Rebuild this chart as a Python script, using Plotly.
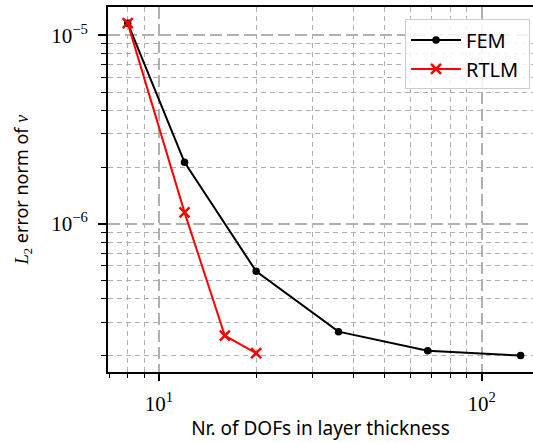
import plotly.graph_objects as go

fem_x = [8, 12, 20, 36, 68, 132]
fem_y = [1.16e-5, 2.12e-6, 5.6e-7, 2.68e-7, 2.12e-7, 2.0e-7]
rtlm_x = [8, 12, 16, 20]
rtlm_y = [1.16e-5, 1.15e-6, 2.55e-7, 2.06e-7]

x_major = [10, 100]
x_major_text = ["10<sup>1</sup>", "10<sup>2</sup>"]
x_minor = [7, 8, 9, 20, 30, 40, 50, 60, 70, 80, 90]
y_major = [1e-6, 1e-5]
y_major_text = ["10<sup>−6</sup>", "10<sup>−5</sup>"]
y_minor = [2e-7, 3e-7, 4e-7, 5e-7, 6e-7, 7e-7, 8e-7, 9e-7,
           2e-6, 3e-6, 4e-6, 5e-6, 6e-6, 7e-6, 8e-6, 9e-6]

SERIF = "Liberation Serif"
SANS = "Noto Sans"
GRID = "#b0b0b0"

fig = go.Figure()
fig.add_trace(go.Scatter(x=fem_x, y=fem_y, name="FEM\u00a0", mode="lines+markers",
                         line=dict(color="black", width=2),
                         marker=dict(symbol="circle", size=7.5, color="black")))
fig.add_trace(go.Scatter(x=rtlm_x, y=rtlm_y, name="RTLM\u00a0", mode="lines+markers",
                         line=dict(color="red", width=2),
                         marker=dict(symbol="x-thin", size=10, color="red",
                                     line=dict(color="red", width=2.5))))

fig.update_layout(
    width=533, height=443,
    margin=dict(l=108, r=0, t=7, b=71),
    plot_bgcolor="white", paper_bgcolor="white",
    font=dict(family=SANS, size=19, color="black"),
    legend=dict(x=0.993, y=0.966, xanchor="right", yanchor="top",
                bgcolor="rgba(255,255,255,0.85)", bordercolor="#cccccc",
                borderwidth=1, font=dict(family=SANS, size=20),
                itemwidth=50, tracegroupgap=0),
)

fig.update_xaxes(
    type="log", range=[0.842, 2.159], automargin=False,
    showline=True, linecolor="black", linewidth=2, mirror=True,
    tickmode="array", tickvals=x_major, ticktext=x_major_text,
    ticks="outside", ticklen=7, tickwidth=1.5, tickcolor="black",
    tickfont=dict(family=SERIF, size=21), ticklabelstandoff=5,
    showgrid=True, gridcolor=GRID, gridwidth=1.5, griddash="12px,5px",
    minor=dict(tickmode="array", tickvals=x_minor, ticks="outside", ticklen=4,
               tickwidth=1.2, tickcolor="black", showgrid=True,
               gridcolor=GRID, gridwidth=1.2, griddash="5px,4px"),
    zeroline=False,
    title=dict(text="Nr. of DOFs in layer thickness", font=dict(family=SANS, size=19),
               standoff=6),
)
fig.update_yaxes(
    type="log", range=[-6.786, -4.850], automargin=False,
    showline=True, linecolor="black", linewidth=2, mirror=False,
    tickmode="array", tickvals=y_major, ticktext=y_major_text,
    ticks="outside", ticklen=8, tickwidth=1.5, tickcolor="black",
    tickfont=dict(family=SERIF, size=21), ticklabelstandoff=6,
    showgrid=True, gridcolor=GRID, gridwidth=1.5, griddash="12px,5px",
    minor=dict(tickmode="array", tickvals=y_minor, ticks="outside", ticklen=5,
               tickwidth=1.2, tickcolor="black", showgrid=True,
               gridcolor=GRID, gridwidth=1.2, griddash="5px,4px"),
    zeroline=False,
    title=dict(text=f"<span style='font-family:{SERIF}'><i>L</i><sub>2</sub></span> error norm of <span style='font-family:{SERIF}'><i>v</i></span>",
               font=dict(family=SANS, size=18), standoff=18),
)

fig.write_html("out.html", config={"displayModeBar": False},
               post_script="document.body.style.margin='0';document.body.style.overflow='hidden';")
